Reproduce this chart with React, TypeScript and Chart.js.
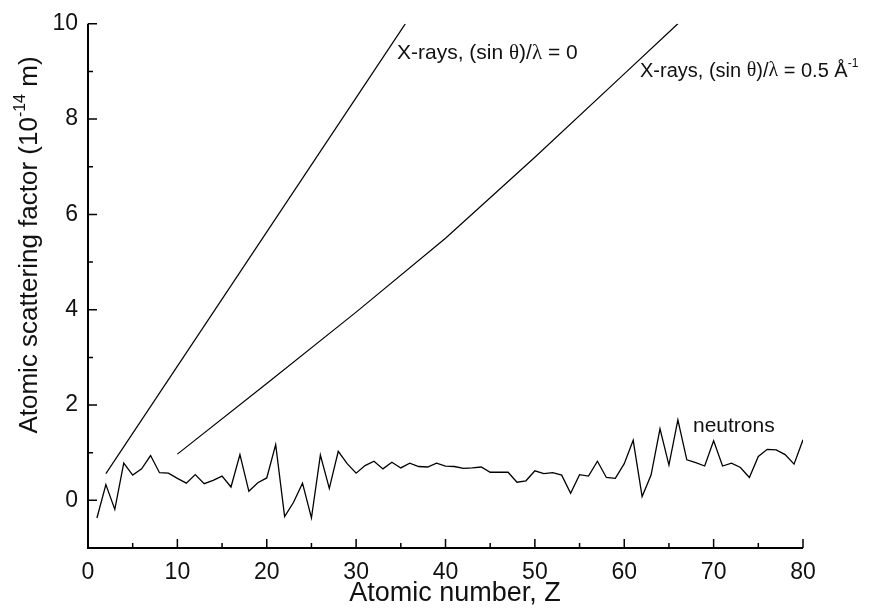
import React, { useEffect, useRef } from "react";
import { Chart, registerables } from "chart.js";

Chart.register(...registerables);

const Z_NEUTRON = Array.from({ length: 80 }, (_, i) => i + 1);
const B_NEUTRON = [
  -0.37, 0.33, -0.19, 0.78, 0.53, 0.66, 0.94, 0.58, 0.57, 0.46,
  0.36, 0.54, 0.35, 0.42, 0.51, 0.28, 0.96, 0.19, 0.37, 0.47,
  1.17, -0.34, -0.04, 0.36, -0.37, 0.95, 0.25, 1.03, 0.77, 0.57,
  0.73, 0.82, 0.66, 0.8, 0.68, 0.78, 0.71, 0.7, 0.78, 0.72,
  0.71, 0.67, 0.68, 0.7, 0.59, 0.59, 0.59, 0.38, 0.41, 0.62,
  0.56, 0.58, 0.53, 0.15, 0.54, 0.51, 0.82, 0.48, 0.46, 0.77,
  1.26, 0.08, 0.53, 1.5, 0.74, 1.69, 0.85, 0.79, 0.72, 1.25,
  0.72, 0.78, 0.69, 0.48, 0.92, 1.07, 1.06, 0.96, 0.76, 1.27,
];
const Z_XRAY0 = [2, 35.5];
const F_XRAY0 = [0.56, 10];
const Z_XRAY05 = [10, 20, 30, 40, 50, 60, 66];
const F_XRAY05 = [0.97, 2.45, 3.95, 5.5, 7.2, 8.95, 10];
const X_TICKS = [0, 10, 20, 30, 40, 50, 60, 70, 80];
const X_MINOR = [5, 15, 25, 35, 45, 55, 65, 75];
const Y_TICKS = [0, 2, 4, 6, 8, 10];
const Y_MINOR = [-1, 1, 3, 5, 7, 9];

const FONT = "'Liberation Sans', Arial, sans-serif";
const SERIF = "'Liberation Serif', 'Times New Roman', serif";

const pts = (xs: number[], ys: number[]) => xs.map((x, i) => ({ x, y: ys[i] }));

type Seg = { t: string; serif?: boolean; sup?: boolean };

const drawSegs = (ctx: any, segs: Seg[], x: number, y: number, size: number, measureOnly = false) => {
  let cx = x;
  segs.forEach((s) => {
    const sz = s.sup ? Math.round(size * 0.62) : size;
    ctx.font = `${sz}px ${s.serif ? SERIF : FONT}`;
    if (!measureOnly) ctx.fillText(s.t, cx, s.sup ? y - size * 0.38 : y);
    cx += ctx.measureText(s.t).width;
  });
  return cx - x;
};

const decor = {
  id: "decor",
  afterDraw(chart: any) {
    const ctx = chart.ctx;
    const xs = chart.scales.x;
    const ys = chart.scales.y;
    const area = chart.chartArea;
    ctx.save();
    ctx.strokeStyle = "#000";
    ctx.lineWidth = 2;
    ctx.beginPath();
    ctx.moveTo(area.left, area.top);
    ctx.lineTo(area.left, area.bottom);
    ctx.lineTo(area.right, area.bottom);
    ctx.stroke();
    ctx.lineWidth = 1.5;
    ctx.beginPath();
    X_TICKS.forEach((v) => {
      const p = xs.getPixelForValue(v);
      ctx.moveTo(p, area.bottom);
      ctx.lineTo(p, area.bottom - 9);
    });
    X_MINOR.forEach((v) => {
      const p = xs.getPixelForValue(v);
      ctx.moveTo(p, area.bottom);
      ctx.lineTo(p, area.bottom - 5);
    });
    Y_TICKS.forEach((v) => {
      const p = ys.getPixelForValue(v);
      ctx.moveTo(area.left, p);
      ctx.lineTo(area.left + 9, p);
    });
    Y_MINOR.forEach((v) => {
      const p = ys.getPixelForValue(v);
      ctx.moveTo(area.left, p);
      ctx.lineTo(area.left + 5, p);
    });
    ctx.stroke();

    ctx.fillStyle = "#111";
    ctx.textBaseline = "middle";
    ctx.textAlign = "left";
    // annotations
    drawSegs(ctx, [
      { t: "X-rays, (sin " }, { t: "\u03b8", serif: true }, { t: ")/" },
      { t: "\u03bb", serif: true }, { t: " = 0" },
    ], 397, 53, 21);
    drawSegs(ctx, [
      { t: "X-rays, (sin " }, { t: "\u03b8", serif: true }, { t: ")/" },
      { t: "\u03bb", serif: true }, { t: " = 0.5 \u00c5" }, { t: "-1", sup: true },
    ], 640, 71, 20);
    drawSegs(ctx, [{ t: "neutrons" }], 693, 426, 21);

    // x title
    ctx.font = `27px ${FONT}`;
    ctx.textAlign = "center";
    ctx.fillText("Atomic number, Z", 455, 594);

    // y title rotated
    ctx.save();
    ctx.translate(30, 245);
    ctx.rotate(-Math.PI / 2);
    ctx.textAlign = "left";
    const ysegs: Seg[] = [
      { t: "Atomic scattering factor (10" }, { t: "-14", sup: true }, { t: " m)" },
    ];
    const total = drawSegs(ctx, ysegs, 0, 0, 26, true);
    drawSegs(ctx, ysegs, -total / 2, 0, 26);
    ctx.restore();
    ctx.restore();
  },
};

export default function App() {
  const ref = useRef<HTMLCanvasElement | null>(null);
  useEffect(() => {
    document.body.style.margin = "0";
    const canvas = ref.current!;
    const lineDs = (data: any[], w: number) => ({
      data,
      borderColor: "#000",
      borderWidth: w,
      pointRadius: 0,
      showLine: true,
      fill: false,
      tension: 0,
    });
    const chart = new Chart(canvas, {
      type: "scatter",
      data: {
        datasets: [
          lineDs(pts(Z_NEUTRON, B_NEUTRON), 1.3),
          lineDs(pts(Z_XRAY0, F_XRAY0), 1.2),
          lineDs(pts(Z_XRAY05, F_XRAY05), 1.2),
        ],
      },
      options: {
        responsive: false,
        animation: false,
        layout: { padding: { left: 0, right: 70, top: 18, bottom: 0 } },
        plugins: { legend: { display: false }, tooltip: { enabled: false } },
        scales: {
          x: {
            type: "linear",
            min: 0,
            max: 80,
            grid: { display: false, drawTicks: false },
            border: { display: false },
            afterBuildTicks: (s: any) => {
              s.ticks = X_TICKS.map((v) => ({ value: v }));
            },
            afterFit: (s: any) => {
              s.height = 60;
            },
            ticks: {
              padding: 11,
              color: "#111",
              maxRotation: 0,
              font: { family: FONT, size: 23 },
            },
          },
          y: {
            type: "linear",
            min: -1,
            max: 10,
            grid: { display: false, drawTicks: false },
            border: { display: false },
            afterBuildTicks: (s: any) => {
              s.ticks = Y_TICKS.map((v) => ({ value: v }));
            },
            afterFit: (s: any) => {
              s.width = 88;
            },
            ticks: {
              padding: 10,
              color: "#111",
              font: { family: FONT, size: 23 },
            },
          },
        },
      },
      plugins: [decor],
    });
    return () => chart.destroy();
  }, []);
  return (
    <div style={{ width: 873, height: 608 }}>
      <canvas ref={ref} width={873} height={608} style={{ display: "block" }} />
    </div>
  );
}
